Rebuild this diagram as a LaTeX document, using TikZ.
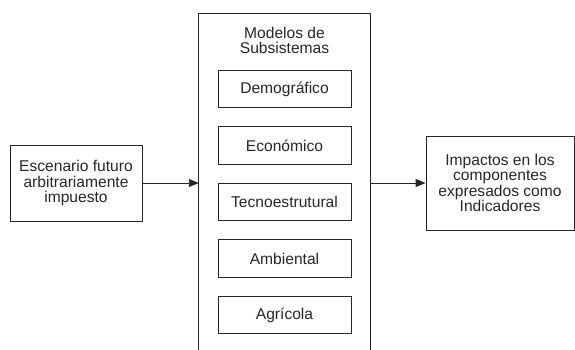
\documentclass[tikz,border=0pt]{standalone}
\usepackage{fontspec}
\setmainfont{Liberation Sans}
\usetikzlibrary{arrows.meta}
\begin{document}
\begin{tikzpicture}[x=1pt,y=-1pt,
  every node/.style={font=\fontsize{15.6}{15.6}\selectfont, text=black!85, align=center, inner sep=0pt},
  box/.style={draw=black!85, line width=0.9pt, rectangle},
  sub/.style={box, minimum width=133pt, minimum height=37.5pt},
  conn/.style={draw=black!85, line width=0.9pt, -{Triangle[length=10pt,width=8pt]}}]
\useasboundingbox (0,0) rectangle (575,349);
\node[box, minimum width=132pt, minimum height=76pt] (esc) at (76,183) {Escenario futuro\\arbitrariamente\\impuesto};
\node[minimum width=171pt, minimum height=336pt] (mod) at (284.5,181.5) {};
\draw[draw=black!85, line width=0.9pt] (mod.south west) -- (mod.north west) -- (mod.north east) -- (mod.south east);
\node (tit) at (284.5,40.5) {Modelos de\\Subsistemas};
\node[sub] (dem) at (284.5,89) {Demográfico};
\node[sub] (eco) at (284.5,145.5) {Económico};
\node[sub] (tec) at (284.5,202) {Tecnoestrutural};
\node[sub] (amb) at (284.5,258.5) {Ambiental};
\node[sub] (agr) at (284.5,315) {Agrícola};
\node[box, minimum width=148pt, minimum height=94pt] (imp) at (500,183) {Impactos en los\\componentes\\expresados como\\Indicadores};
\draw[conn] (esc.east) -- (esc.east -| mod.west);
\draw[conn] (esc.east -| mod.east) -- (imp.west);
\end{tikzpicture}
\end{document}
